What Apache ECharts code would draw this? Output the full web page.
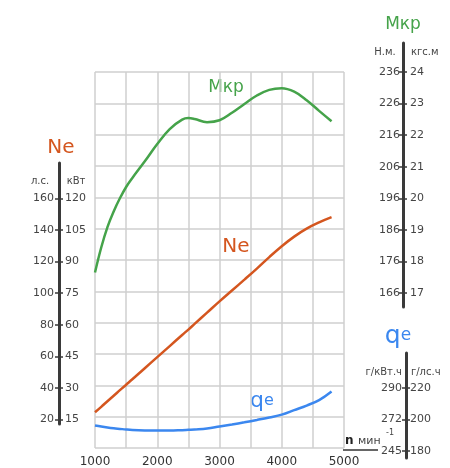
<!DOCTYPE html>
<html>
<head>
<meta charset="utf-8">
<script src="https://cdn.jsdelivr.net/npm/echarts@6/dist/echarts.min.js"></script>
<style>
html, body { margin: 0; padding: 0; background: #fff; }
#main { width: 450px; height: 468px; }
</style>
</head>
<body>
<div id="main"></div>
<script>
var chartDom = document.getElementById('main');
var myChart = echarts.init(chartDom);

// engine speed, rpm
var rpm = [1000, 1100, 1200, 1300, 1400, 1500, 1600, 1800, 2000, 2200, 2400, 2500,
           2600, 2800, 3000, 3200, 3400, 3600, 3800, 4000, 4200, 4400, 4600, 4800];
// torque, кгс.м
var mkr = [17.6, 18.4, 19.05, 19.55, 19.97, 20.33, 20.62, 21.15, 21.7, 22.18, 22.48, 22.53,
           22.5, 22.4, 22.46, 22.7, 22.98, 23.25, 23.43, 23.48, 23.37, 23.1, 22.76, 22.43];
// power, кВт
var ne = [17.1, 19.7, 22.4, 25.0, 27.7, 30.3, 32.9, 38.2, 43.5, 48.8, 54.1, 56.7,
          59.4, 64.8, 70.2, 75.4, 80.6, 85.9, 91.4, 96.6, 101.2, 105.0, 108.0, 110.5];
// specific consumption, г/л.с.ч
var qe = [194.4, 193.7, 193.1, 192.6, 192.2, 191.8, 191.5, 191.2, 191.1, 191.1, 191.4, 191.6,
          191.8, 192.4, 193.7, 195.0, 196.4, 197.9, 199.5, 201.3, 204.2, 207.1, 210.6, 216.1];

// tick labels
var xTicks = [1000, 2000, 3000, 4000, 5000];
var neKw = [15, 30, 45, 60, 75, 90, 105, 120];
var neHp = [20, 40, 60, 80, 100, 120, 140, 160];
var mkrKgf = [17, 18, 19, 20, 21, 22, 23, 24];
var mkrNm = [166, 176, 186, 196, 206, 216, 226, 236];
var qeHp = [180, 200, 220];
var qeKw = [245, 272, 290];

var cGreen = '#45a34a', cRed = '#d4561f', cBlue = '#3b87ef';
var font = 'DejaVu Sans';
var G = {left: 95, top: 72, width: 249, height: 379};
var bottom = G.top + G.height;

// value range of an axis drawn from topPx to botPx, using main grid scale [lo, hi]
function span(topPx, botPx, lo, hi) {
    var k = (hi - lo) / G.height;
    return [lo + (bottom - botPx) * k, lo + (bottom - topPx) * k];
}
var neSpan = span(163, 424, 0, 180);
var mkrSpan = span(43, 307, 12, 24);
var qeSpan = span(353, 458, 180, 420);

function lookup(vals, labels) {
    return function (v) {
        for (var i = 0; i < vals.length; i++) {
            if (Math.abs(vals[i] - v) < 1e-6) return String(labels[i]);
        }
        return '';
    };
}

function sideAxis(grid, sp, vals, labels, inside, margin, showLine) {
    return {
        type: 'value', gridIndex: grid, position: 'left',
        min: sp[0], max: sp[1],
        axisLine: {show: showLine, lineStyle: {color: '#3a3a3a', width: 3}},
        axisTick: {show: true, inside: inside, length: 4, customValues: vals,
                   lineStyle: {color: '#3a3a3a', width: 1.5}},
        axisLabel: {show: true, inside: inside, margin: margin, customValues: vals,
                    formatter: lookup(vals, labels), color: '#444', fontSize: 11, fontFamily: font},
        splitLine: {show: false}
    };
}

function txt(x, y, s, size, color, align, weight) {
    return {type: 'text', x: x, y: y, silent: true,
        style: {text: s, fill: color, fontSize: size, fontFamily: font,
                fontWeight: weight || 'normal', align: align || 'center', verticalAlign: 'middle'}};
}

function makeSeries(name, data, yIdx, color) {
    var pts = [];
    for (var i = 0; i < rpm.length; i++) pts.push([rpm[i], data[i]]);
    return {
        name: name, type: 'line', xAxisIndex: 0, yAxisIndex: yIdx,
        smooth: 0.4, showSymbol: false, data: pts,
        lineStyle: {color: color, width: 2.5}
    };
}

var option = {
    backgroundColor: '#fff',
    animation: false,
    grid: [
        {left: G.left, top: G.top, width: G.width, height: G.height},
        {left: 59, top: 163, width: 1, height: 261},
        {left: 403, top: 43, width: 1, height: 264},
        {left: 406, top: 353, width: 1, height: 105}
    ],
    xAxis: [
        {
            type: 'value', gridIndex: 0, min: 1000, max: 5000, interval: 500,
            axisLine: {show: false}, axisTick: {show: false},
            axisLabel: {customValues: xTicks, margin: 8, color: '#333', fontSize: 12, fontFamily: font,
                        formatter: function (v) { return String(v); }},
            splitLine: {show: true, lineStyle: {color: '#cfcfcf', width: 1.5}}
        },
        {type: 'value', gridIndex: 1, show: false},
        {type: 'value', gridIndex: 2, show: false},
        {type: 'value', gridIndex: 3, show: false}
    ],
    yAxis: [
        {
            type: 'value', gridIndex: 0, min: 0, max: 180, interval: 15,
            axisLine: {show: false}, axisTick: {show: false}, axisLabel: {show: false},
            splitLine: {show: true, lineStyle: {color: '#cfcfcf', width: 1.5}}
        },
        {type: 'value', gridIndex: 0, min: 12, max: 24, show: false},
        {type: 'value', gridIndex: 0, min: 180, max: 420, show: false},
        sideAxis(1, neSpan, neKw, neHp, false, 5, true),
        sideAxis(1, neSpan, neKw, neKw, true, 6, false),
        sideAxis(2, mkrSpan, mkrKgf, mkrNm, false, 3, true),
        sideAxis(2, mkrSpan, mkrKgf, mkrKgf, true, 7, false),
        sideAxis(3, qeSpan, qeHp, qeKw, false, 4, true),
        sideAxis(3, qeSpan, qeHp, qeHp, true, 4, false)
    ],
    series: [
        makeSeries('Мкр', mkr, 1, cGreen),
        makeSeries('Ne', ne, 0, cRed),
        makeSeries('qe', qe, 2, cBlue)
    ],
    graphic: [
        txt(61, 148, 'Ne', 20, cRed),
        txt(40, 181, 'л.с.', 10, '#444'),
        txt(76, 181, 'кВт', 10, '#444'),
        txt(403, 25, 'Мкр', 17, cGreen),
        txt(385, 52, 'Н.м.', 10, '#444'),
        txt(411, 52, 'кгс.м', 10, '#444', 'left'),
        {type: 'text', x: 398, y: 336, silent: true,
            style: {rich: {q: {fontSize: 25, fontFamily: font, fill: cBlue},
                           e: {fontSize: 17, fontFamily: font, fill: cBlue}},
                    text: '{q|q}{e|e}', align: 'center', verticalAlign: 'middle'}},
        txt(402, 372, 'г/кВт.ч', 10, '#444', 'right'),
        txt(411, 372, 'г/лс.ч', 10, '#444', 'left'),
        txt(345, 441, 'n', 12, '#222', 'left', 'bold'),
        txt(358, 441, 'мин', 11, '#444', 'left'),
        txt(386, 433, '-1', 8, '#444', 'left'),
        {type: 'line', silent: true, shape: {x1: 343, y1: 450, x2: 378, y2: 450},
            style: {stroke: '#333', lineWidth: 1.5}},
        txt(226, 88, 'Мкр', 17, cGreen),
        txt(236, 247, 'Ne', 20, cRed),
        {type: 'text', x: 262, y: 401, silent: true,
            style: {rich: {q: {fontSize: 22, fontFamily: font, fill: cBlue},
                           e: {fontSize: 16, fontFamily: font, fill: cBlue}},
                    text: '{q|q}{e|e}', align: 'center', verticalAlign: 'middle'}}
    ]
};

option && myChart.setOption(option);
</script>
</body>
</html>
